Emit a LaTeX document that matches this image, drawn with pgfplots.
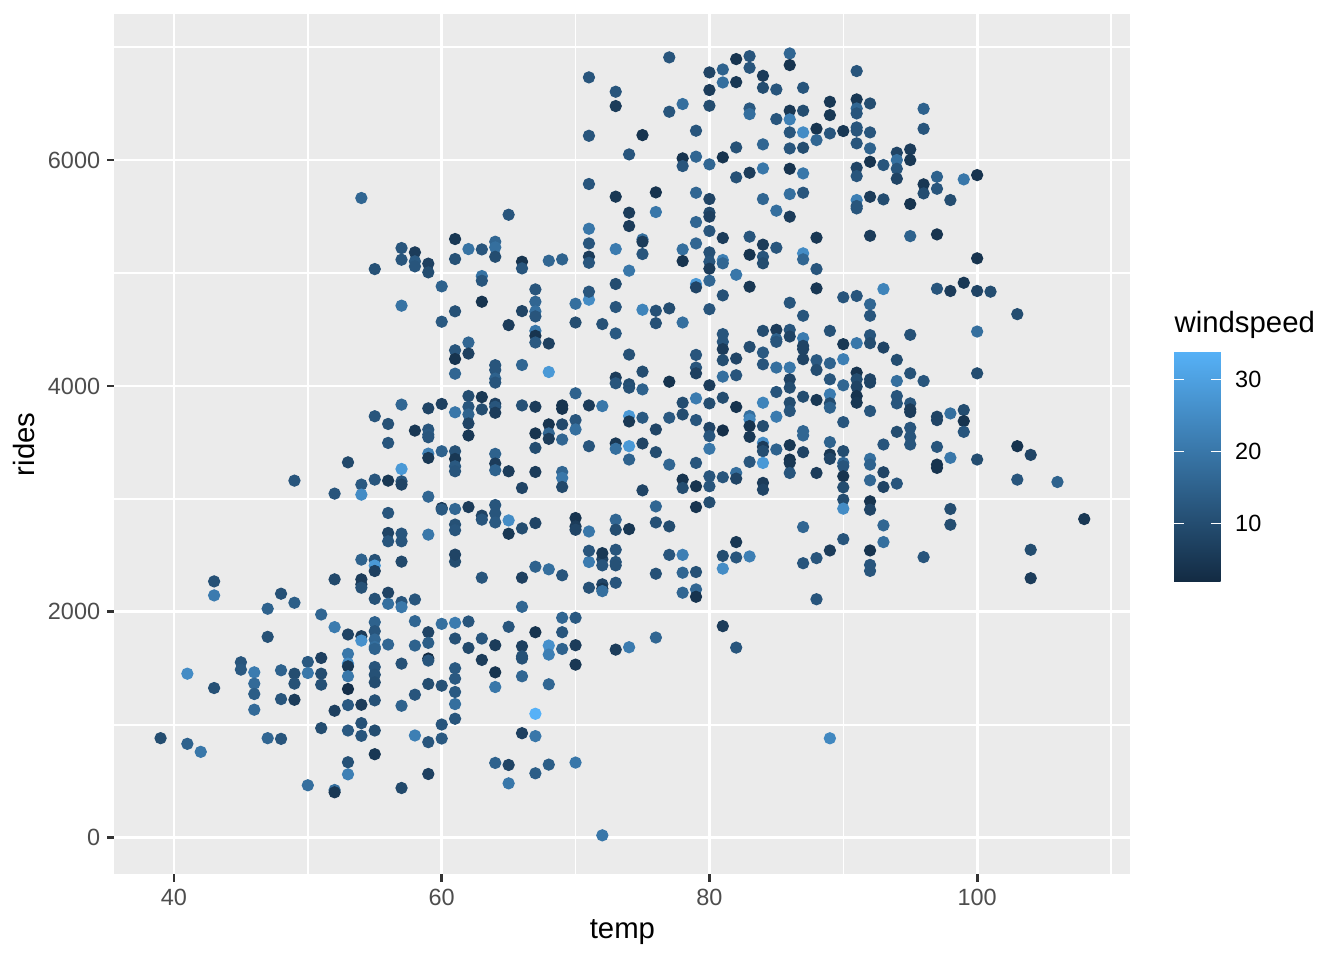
\documentclass[border=0pt]{standalone}
\usepackage{fontspec}
\setmainfont{Liberation Sans}
\usepackage{pgfplots}
\pgfplotsset{compat=1.18}
\usepackage{pgfplotstable}
\definecolor{panelgrey}{HTML}{EBEBEB}
\definecolor{tickgrey}{HTML}{333333}
\definecolor{labelgrey}{HTML}{4D4D4D}

% temp, rides, windspeed
\pgfplotstableread{
t r w
43 2270 11
43 2146 21
41 1453 25
43 1326 11
39 882 10
41 832 15
42 761 20
45 1554 12
45 1489 13
46 1465 21
46 1365 17
46 1273 14
46 1134 17
47 2028 15
47 1779 11
47 882 16
48 2161 11
48 1483 15
48 1228 12
48 876 12
49 2081 14
49 1453 10
49 1365 11
49 1222 6
50 1557 13
50 1459 20
50 465 18
51 1977 16
51 1592 7
51 1453 10
51 1356 11
51 971 10
52 2288 9
52 1865 21
52 1125 7
52 423 18
52 403 5
53 1800 8
53 1628 20
53 1542 25
53 1518 5
53 1430 20
53 1317 3
53 1175 13
53 950 13
53 669 11
53 562 22
54 2288 6
54 2244 6
54 2214 11
54 1785 6
54 1746 26
54 1178 6
54 1015 11
54 903 12
55 2460 11
55 2410 28
55 2362 7
55 2116 11
55 1909 15
55 1829 12
55 1755 16
55 1690 18
55 1672 15
55 1512 12
55 1444 11
55 1376 10
55 1217 11
55 950 10
55 740 5
56 2170 8
56 2072 18
56 1711 16
57 2445 9
57 2087 12
57 2042 20
57 1542 11
57 1169 15
57 441 9
58 2110 12
58 1918 16
58 1702 15
58 1267 12
58 906 22
59 1820 8
59 1726 14
59 1587 2
59 1569 12
59 1362 10
59 847 12
59 565 7
60 1894 18
60 1347 11
60 1003 12
60 879 13
61 2445 10
61 1903 21
61 1764 11
61 1501 13
61 1409 13
61 1291 13
61 1184 18
61 1054 12
54 5664 16
55 5035 11
57 5221 12
57 5118 12
58 5183 6
58 5103 13
58 5059 12
59 5083 7
59 5006 10
60 4882 15
61 5301 5
61 5124 11
57 4711 19
60 4569 13
61 4661 11
61 4316 12
61 4239 4
61 4109 16
57 3835 16
55 3732 12
56 3664 11
56 3496 12
59 3802 8
60 3841 7
61 3767 20
58 3605 5
59 3614 12
59 3569 13
59 3546 12
59 3401 22
59 3363 5
60 3422 15
61 3422 11
61 3354 5
61 3289 13
61 3245 12
53 3324 9
49 3162 12
54 3127 13
52 3047 12
54 3038 25
55 3171 12
56 3162 5
57 3265 28
57 3156 12
57 3127 8
59 3020 16
60 2920 6
60 2906 13
61 2911 16
56 2876 12
59 2684 20
61 2773 11
61 2723 12
56 2699 8
56 2625 12
57 2693 12
57 2625 12
54 2463 15
61 2507 8
63 2303 12
66 2303 7
67 2400 15
68 2377 18
69 2324 12
71 2442 21
72 2466 8
72 2412 12
73 2442 12
73 2412 11
71 2214 11
72 2244 8
72 2205 5
72 2184 18
73 2258 12
76 2338 11
78 2347 16
79 2353 11
78 2170 16
79 2199 16
79 2134 4
81 2383 25
81 1874 6
82 1684 12
62 1915 12
65 1868 12
67 1820 4
69 1948 16
69 1820 12
70 1948 13
66 2045 16
62 1681 9
63 1764 12
64 1705 6
66 1696 7
66 1607 11
66 1587 11
68 1702 26
68 1622 22
69 1672 15
70 1705 6
70 1533 5
73 1666 6
74 1687 21
76 1773 16
63 1575 6
64 1465 4
66 1430 16
64 1335 20
68 1359 16
67 1098 34
66 926 7
67 900 20
64 663 15
65 645 8
67 571 14
68 648 14
70 666 20
65 482 20
72 22 20
63 4746 4
65 4539 6
66 4663 8
67 4746 16
67 4660 18
67 4616 12
67 4488 20
67 4444 4
67 4385 13
68 4376 7
70 4728 18
71 4764 25
70 4562 10
72 4548 11
73 4699 12
73 4465 13
75 4675 23
76 4666 11
76 4556 11
77 4687 10
74 4278 11
75 4127 10
73 4074 6
73 4024 12
74 4015 10
74 3985 11
75 3970 15
77 4038 4
62 4385 16
62 4287 7
64 4184 12
64 4142 12
64 4065 15
64 4030 12
66 4186 16
68 4124 28
62 3911 10
62 3816 12
62 3748 15
62 3668 8
62 3562 5
63 3902 5
63 3793 10
64 3843 7
64 3816 12
64 3763 6
66 3828 11
67 3816 6
68 3660 4
68 3580 16
68 3532 6
67 3580 4
67 3452 10
69 3828 4
69 3798 4
69 3660 9
69 3526 16
70 3935 15
70 3698 12
70 3615 18
71 3828 6
72 3822 20
71 3467 12
73 3491 5
73 3444 18
74 3734 28
74 3686 5
74 3467 28
74 3349 15
75 3719 13
75 3491 8
75 3076 8
76 3615 8
76 3414 10
77 3719 13
77 3304 16
64 3399 15
64 3313 6
64 3254 15
65 3245 6
67 3239 6
69 3239 16
69 3186 20
69 3106 9
66 3097 8
62 2928 6
63 2852 8
63 2817 12
64 2946 12
64 2872 12
64 2792 13
65 2810 25
65 2692 5
66 2739 10
67 2786 8
70 2831 4
70 2757 6
70 2727 8
71 2712 20
73 2816 16
73 2727 10
74 2733 5
76 2934 16
76 2792 11
77 2757 10
71 2541 12
72 2520 5
73 2550 12
77 2505 12
71 6732 12
73 6605 12
73 6478 6
71 6215 12
75 6221 4
74 6050 12
77 6909 12
77 6428 12
71 5788 12
73 5676 5
74 5534 6
74 5416 6
76 5714 4
76 5540 20
71 5392 20
71 5262 12
71 5145 6
71 5091 12
73 5212 21
75 5298 18
75 5277 6
75 5168 12
74 5021 20
62 5212 19
63 5209 12
64 5277 16
64 5227 18
64 5144 10
65 5516 12
66 5100 4
66 5041 12
68 5109 16
69 5121 15
63 4973 19
63 4932 12
67 4855 12
71 4835 12
73 4903 10
80 6776 8
80 6620 6
80 6481 10
81 6802 15
81 6687 18
82 6894 4
82 6690 5
83 6920 12
83 6817 12
84 6746 6
84 6640 10
85 6625 12
86 6944 16
86 6841 4
87 6640 12
91 6788 12
78 6496 18
79 6260 12
83 6457 13
83 6407 18
85 6363 12
86 6437 5
86 6360 22
87 6437 10
89 6516 5
89 6398 5
91 6537 5
91 6457 16
91 6413 12
92 6501 10
86 6245 12
87 6245 25
88 6277 4
88 6177 16
89 6236 12
90 6257 5
91 6289 12
91 6260 12
91 6148 12
92 6245 12
92 6103 15
82 6112 11
84 6139 16
86 6103 12
87 6109 10
78 6015 4
78 5947 12
79 6030 16
80 5962 16
81 6024 4
92 5985 4
93 5956 12
91 5932 8
91 5858 12
82 5847 11
83 5888 6
84 5926 20
86 5923 4
87 5882 20
79 5711 16
80 5655 8
80 5534 9
80 5499 7
79 5451 16
84 5655 16
85 5552 18
86 5699 18
87 5711 12
86 5499 6
91 5646 22
91 5593 12
91 5572 12
92 5675 6
93 5652 10
92 5330 6
80 5372 12
79 5262 16
78 5209 18
78 5106 4
80 5183 11
80 5100 12
81 5310 6
81 5115 22
81 5086 16
83 5322 12
83 5162 4
84 5251 6
84 5144 12
84 5086 10
85 5224 12
87 5174 25
87 5121 16
88 5313 5
88 5035 12
80 5038 6
79 4903 28
79 4873 8
80 4932 16
82 4985 20
83 4879 5
81 4802 11
88 4864 5
90 4785 12
91 4797 12
92 4723 16
93 4858 23
86 4737 12
80 4680 12
78 4562 18
87 4622 12
92 4622 12
81 4459 12
81 4391 12
81 4326 6
81 4228 10
82 4243 8
79 4275 12
79 4163 12
79 4112 7
83 4346 10
84 4488 10
84 4296 13
84 4192 12
85 4497 6
85 4414 15
85 4391 12
86 4497 12
86 4438 8
87 4423 21
87 4355 8
87 4326 8
87 4237 8
85 4163 18
86 4163 20
88 4228 13
88 4142 10
89 4488 11
89 4201 15
89 4059 12
90 4370 5
90 4237 22
90 4006 16
91 4379 20
92 4450 12
92 4379 10
93 4340 8
91 4118 4
91 4059 10
91 3994 8
91 3911 4
91 3852 5
92 4059 8
92 4030 8
81 4083 18
82 4095 12
80 4006 6
86 4059 8
86 3985 10
79 3890 21
78 3852 10
78 3748 10
80 3846 10
81 3896 10
82 3814 4
84 3852 23
85 3947 12
85 3728 21
86 3852 10
86 3778 12
87 3905 10
88 3876 5
89 3926 21
89 3846 10
89 3808 15
90 3680 12
92 3778 12
79 3698 12
80 3630 8
80 3556 12
80 3444 20
81 3606 3
83 3734 18
83 3704 23
83 3645 4
83 3550 5
84 3645 10
84 3497 25
84 3461 6
84 3423 10
85 3438 15
86 3476 5
87 3600 16
87 3562 16
87 3414 8
86 3349 4
86 3319 5
86 3230 12
88 3230 6
89 3503 15
89 3393 5
89 3355 8
90 3423 10
90 3319 16
90 3290 12
90 3201 4
90 3103 10
92 3355 18
92 3304 15
92 3165 16
93 3482 12
93 3236 8
93 3106 8
79 3319 12
78 3171 4
78 3097 10
79 3112 4
80 3201 12
80 3112 12
81 3192 12
82 3230 18
82 3180 8
83 3328 12
84 3319 28
84 3142 6
84 3082 8
79 2928 4
80 2970 10
90 2994 10
90 2914 25
92 2979 4
92 2905 8
87 2751 16
93 2766 16
93 2618 18
90 2644 12
89 2544 6
88 2476 12
87 2431 12
82 2618 5
81 2496 10
82 2482 12
83 2491 22
78 2505 22
92 2544 4
92 2416 12
92 2363 12
96 6454 15
96 6277 12
94 6065 8
94 6000 18
94 5923 12
94 5835 8
95 6094 6
95 6000 5
95 5611 4
96 5785 5
96 5705 10
97 5852 15
97 5746 12
98 5646 10
99 5829 20
100 5867 4
95 5327 15
97 5342 4
100 5130 4
97 4861 12
98 4841 6
99 4914 5
100 4841 8
101 4835 10
103 4636 10
95 4453 11
100 4482 18
94 4231 10
95 4112 11
96 4044 12
94 4044 18
100 4112 10
94 3911 12
94 3846 12
95 3846 12
95 3793 6
95 3769 6
95 3630 12
95 3550 12
95 3482 12
94 3594 10
97 3728 8
97 3698 8
98 3757 18
99 3787 10
99 3689 4
99 3594 12
97 3461 12
98 3364 20
97 3304 4
97 3275 4
100 3349 10
103 3467 4
104 3390 8
94 3136 12
103 3171 12
106 3150 15
98 2911 10
98 2772 10
96 2485 12
108 2822 5
104 2550 10
104 2298 6
88 2112 12
89 881 24
}\rides

\begin{document}
\begin{tikzpicture}
\path[use as bounding box] (-42.9pt,-32.1pt) rectangle (461.1pt,327.9pt);
\begin{axis}[
  at={(0,0)}, anchor=south west,
  scale only axis, width=381pt, height=322.6pt,
  xmin=35.55, xmax=111.45, ymin=-324, ymax=7292,
  axis background/.style={fill=panelgrey},
  axis line style={draw=none},
  xtick={40,60,80,100}, minor xtick={50,70,90,110},
  ytick={0,2000,4000,6000}, minor ytick={1000,3000,5000,7000},
  grid=both,
  major grid style={white, line width=1.07pt},
  minor grid style={white, line width=0.53pt},
  tick align=outside, tick pos=left,
  major tick length=2.75pt, minor tick length=0pt,
  tick style={tickgrey, line width=1.07pt},
  /pgf/number format/assume math mode=true,
  /pgf/number format/1000 sep={},
  ticklabel style={font=\fontsize{8.8}{10}\selectfont, text=labelgrey, inner sep=0pt},
  xticklabel style={anchor=base, yshift=-8.75pt},
  yticklabel style={anchor=east, xshift=-2.4pt},
  xlabel={temp}, ylabel={rides},
  label style={font=\fontsize{11}{13}\selectfont, inner sep=0pt},
  xlabel style={at={(axis description cs:0.5,-0.0747)}, anchor=base},
  ylabel style={at={(axis description cs:-0.0791,0.5)}, anchor=base},
  colormap={gg}{rgb255=(19,43,67) rgb255=(86,177,247)},
  point meta min=1.96, point meta max=34.0,
  colorbar,
  colorbar/width=17.4pt,
  colorbar shift/.style={},
  colorbar style={
    scale only axis, width=17.4pt, height=86.25pt,
    at={(397.4pt,153.1pt)}, anchor=west,
    axis line style={draw=none},
    ytick={10,20,30}, ytick pos=both, yticklabel pos=right,
    tick align=inside, major tick length=3.6pt,
    tick style={white, line width=0.4pt},
    /pgf/number format/assume math mode=true,
    yticklabel style={font=\fontsize{8.8}{10}\selectfont, text=black, anchor=west, inner sep=0pt, xshift=5.3pt},
    title={windspeed},
    title style={at={(0,1)}, anchor=south west, inner sep=0pt, yshift=-1.5pt, font=\fontsize{11}{13}\selectfont},
  },
]
\addplot[scatter, only marks, mark=*, mark size=2.1pt,
  scatter src=explicit,
  scatter/use mapped color={draw=mapped color, fill=mapped color}]
  table[x=t, y=r, meta=w]{\rides};
\end{axis}
\end{tikzpicture}
\end{document}
